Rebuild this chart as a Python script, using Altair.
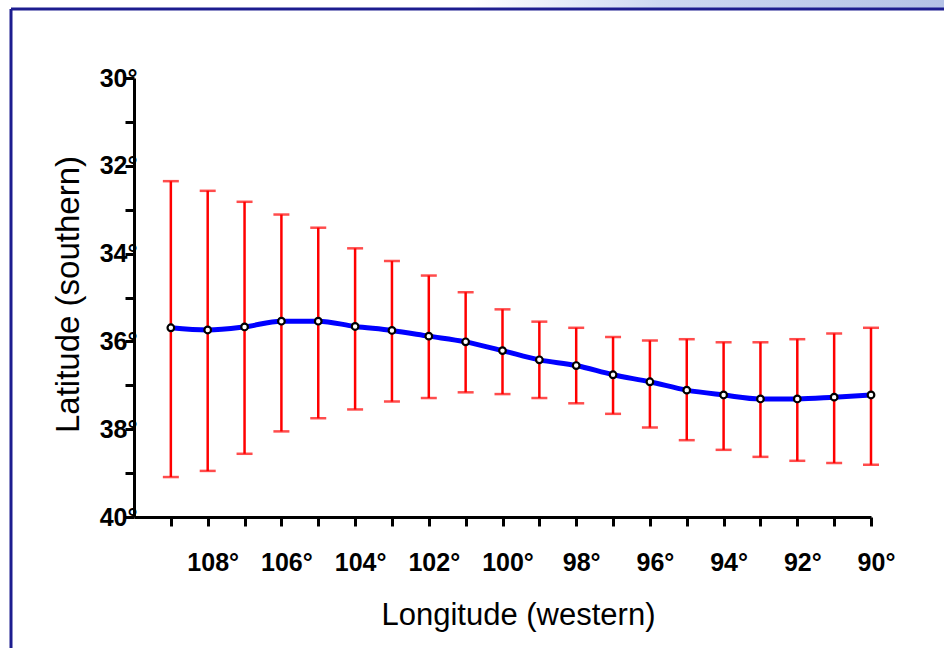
import altair as alt
import pandas as pd

# Longitude (degrees west), mean latitude (degrees south) and the error range
longitude = list(range(109, 89, -1))
lat_mean = [35.69, 35.74, 35.67, 35.54, 35.54, 35.66, 35.75, 35.88, 36.01, 36.21,
            36.42, 36.55, 36.76, 36.92, 37.11, 37.22, 37.31, 37.31, 37.27, 37.22]
lat_north = [32.35, 32.57, 32.82, 33.11, 33.41, 33.88, 34.17, 34.50, 34.88, 35.27,
             35.55, 35.69, 35.90, 35.98, 35.95, 36.02, 36.02, 35.95, 35.82, 35.69]
lat_south = [39.09, 38.95, 38.56, 38.05, 37.75, 37.55, 37.37, 37.29, 37.16, 37.20,
             37.29, 37.41, 37.65, 37.96, 38.25, 38.47, 38.63, 38.72, 38.77, 38.81]

x_ticks = list(range(109, 89, -1))
y_ticks = list(range(30, 41))

df = pd.DataFrame({"lon": longitude, "lat": lat_mean, "lo": lat_north, "hi": lat_south})

FONT = "Liberation Sans"
W, H = 737, 439
PAD_L, PAD_T = 134, 78

x_scale = alt.Scale(domain=[90, 110], reverse=True, nice=False, zero=False)
y_scale = alt.Scale(domain=[30, 40], reverse=True, nice=False, zero=False)

x_axis = alt.Axis(
    values=x_ticks,
    tickCount=20,
    labelExpr="datum.value % 2 == 0 ? datum.value + '°' : ''",
    title="Longitude (western)",
    titleFontSize=31,
    titleX=384, titleY=107, titleAlign="center", titleBaseline="alphabetic", titleAngle=0,
    labelPadding=24, labelOffset=5, labelBaseline="top",
)
y_axis = alt.Axis(
    values=y_ticks,
    labelExpr="datum.value % 2 == 0 ? datum.value + '°' : ''",
    title="Latitude (southern)",
    titleFontSize=33,
    titleX=-56, titleY=216, titleAlign="center", titleBaseline="alphabetic", titleAngle=-90,
    labelPadding=-12, labelBaseline="middle",
)

X = alt.X("lon:Q", scale=x_scale, axis=x_axis)
Y = alt.Y("lat:Q", scale=y_scale, axis=y_axis)

base = alt.Chart(df)

bars = base.mark_rule(color="#ff0000", strokeWidth=2.5).encode(
    x=X, y=alt.Y("lo:Q", scale=y_scale, axis=y_axis), y2="hi:Q",
)
cap_top = base.mark_tick(color="#ff0000", thickness=2.5, size=16, orient="horizontal").encode(
    x=X, y=alt.Y("lo:Q", scale=y_scale, axis=y_axis)
)
cap_bot = base.mark_tick(color="#ff0000", thickness=2.5, size=16, orient="horizontal").encode(
    x=X, y=alt.Y("hi:Q", scale=y_scale, axis=y_axis)
)
line = base.mark_line(color="#0000ff", strokeWidth=5, interpolate="monotone").encode(x=X, y=Y)
points = base.mark_point(filled=True, fill="white", stroke="black", strokeWidth=2.2,
                         size=44, opacity=1).encode(x=X, y=Y)

# slide frame around the graph and the light band at the top edge
one = alt.Data(values=[{"k": 1}])
frame_left = alt.Chart(one).mark_rule(color="#1d1d8f", strokeWidth=3).encode(
    x=alt.value(11 - PAD_L), y=alt.value(9 - PAD_T), y2=alt.value(648 - PAD_T)
)
frame_top = alt.Chart(one).mark_rule(color="#1d1d8f", strokeWidth=3).encode(
    x=alt.value(11 - PAD_L), x2=alt.value(944 - PAD_L), y=alt.value(9 - PAD_T)
)
band = alt.Chart(one).mark_rect(
    color=alt.Gradient(
        gradient="linear",
        stops=[alt.GradientStop(color="#ffffff", offset=0),
               alt.GradientStop(color="#cdd8f2", offset=0.4),
               alt.GradientStop(color="#b4c2e6", offset=1)],
        x1=0, x2=1, y1=0, y2=0,
    )
).encode(
    x=alt.value(470 - PAD_L), x2=alt.value(944 - PAD_L),
    y=alt.value(0 - PAD_T), y2=alt.value(8 - PAD_T)
)

chart = alt.layer(band, frame_left, frame_top, bars, cap_top, cap_bot, line, points).properties(
    width=W, height=H,
    autosize=alt.AutoSizeParams(type="none"),
    padding={"left": PAD_L, "top": PAD_T, "right": 944 - PAD_L - W, "bottom": 648 - PAD_T - H},
    background="white",
).configure_view(stroke=None).configure_axis(
    grid=False,
    domainColor="black", domainWidth=3,
    tickColor="black", tickWidth=3, tickSize=9,
    labelFont=FONT, labelFontSize=25, labelFontWeight="bold", labelColor="black",
    titleFont=FONT, titleFontWeight="normal", titleColor="black",
    labelOverlap=False, labelFlush=False,
)

chart.save("out.html", embed_options={"renderer": "svg", "actions": False})
